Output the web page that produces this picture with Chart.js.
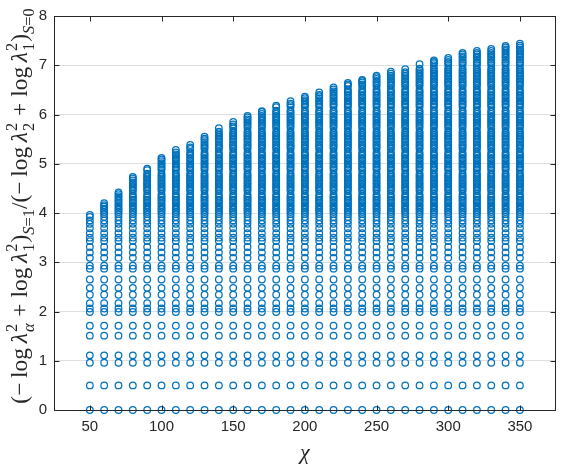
<!DOCTYPE html>
<html>
<head>
<meta charset="utf-8">
<script src="https://cdn.jsdelivr.net/npm/chart.js@4.4.1/dist/chart.umd.min.js"></script>
<style>
  html, body { margin: 0; padding: 0; background: #fff; }
  canvas { display: block; }
</style>
</head>
<body>
<canvas id="myChart" width="561" height="466"></canvas>
<script>
// bond dimensions (one column of points each)
const chi = [50, 60, 70, 80, 90, 100, 110, 120, 130, 140, 150, 160, 170, 180, 190, 200,
             210, 220, 230, 240, 250, 260, 270, 280, 290, 300, 310, 320, 330, 340, 350];

// highest ratio reached in each column
const tops = [3.96, 4.2, 4.42, 4.73, 4.9, 5.12, 5.28, 5.38, 5.55, 5.72, 5.85, 5.97, 6.07, 6.18, 6.27, 6.36,
              6.45, 6.55, 6.64, 6.7, 6.79, 6.87, 6.92, 7.02, 7.1, 7.15, 7.25, 7.29, 7.33, 7.39, 7.44];

// low lying ratios, seen in every column
const lowLevels = [0, 0.5, 0.96, 1.11, 1.51, 1.71, 1.99, 2.06, 2.17, 2.34, 2.48, 2.65, 2.87, 2.93,
                   3.09, 3.2, 3.31, 3.43, 3.5, 3.59, 3.69, 3.78, 3.85, 3.92, 3.98];

// the dense upper band
const highLevels = [4.02, 4.06, 4.09, 4.13, 4.16, 4.2, 4.24, 4.27, 4.31, 4.34, 4.38, 4.45, 4.48, 4.52,
                    4.55, 4.59, 4.62, 4.66, 4.7, 4.73, 4.77, 4.8, 4.87, 4.91, 4.94, 4.98, 5.01, 5.05,
                    5.09, 5.12, 5.16, 5.19, 5.23, 5.3, 5.33, 5.37, 5.4, 5.44, 5.48, 5.51, 5.55, 5.58,
                    5.62, 5.65, 5.72, 5.76, 5.8, 5.83, 5.87, 5.9, 5.94, 5.97, 6.01, 6.05, 6.08, 6.15,
                    6.19, 6.22, 6.26, 6.29, 6.33, 6.37, 6.4, 6.44, 6.47, 6.51, 6.58, 6.61, 6.65, 6.68,
                    6.72, 6.76, 6.79, 6.83, 6.86, 6.9, 6.93, 7.0, 7.04, 7.07, 7.11, 7.15, 7.18, 7.22,
                    7.25, 7.29, 7.32, 7.36, 7.4];

const xTicks = [50, 100, 150, 200, 250, 300, 350];
const yTicks = [0, 1, 2, 3, 4, 5, 6, 7, 8];

const axisColor = '#262626';
const blue = '#0072BD';

const levels = lowLevels.concat(highLevels);
const points = [];
for (let i = 0; i < chi.length; i++) {
    levels.forEach(v => {
        if (v < tops[i] - 0.02) points.push({x: chi[i], y: v});
    });
    points.push({x: chi[i], y: tops[i]});
}

// y label pieces: [text, italic, position]
const yLabel = [
    ['(\u2212\u2009log\u2009', false, 'b'], ['\u03bb', true, 'b'], ['2|\u03b1', true, 'ss'],
    [' + log\u2009', false, 'b'], ['\u03bb', true, 'b'], ['2|1', false, 'ss'],
    [')', false, 'b'], ['S', true, 'sub'], ['=1', false, 'sub'],
    ['/(\u2212\u2009log\u2009', false, 'b'], ['\u03bb', true, 'b'], ['2|2', false, 'ss'],
    [' + log\u2009', false, 'b'], ['\u03bb', true, 'b'], ['2|1', false, 'ss'],
    [')', false, 'b'], ['S', true, 'sub'], ['=0', false, 'sub']
];

function font(size, italic) {
    return (italic ? 'italic ' : '') + size + 'px "Liberation Serif"';
}

function mathRun(ctx, parts, size, draw) {
    let x = 0;
    const s = size * 0.7;
    parts.forEach(p => {
        const [t, it, pos] = p;
        if (pos === 'b') {
            ctx.font = font(size, it);
            if (draw) ctx.fillText(t, x, 0);
            x += ctx.measureText(t).width;
        } else if (pos === 'sub') {
            ctx.font = font(s, it);
            if (draw) ctx.fillText(t, x, size * 0.3);
            x += ctx.measureText(t).width;
        } else {
            const [sup, sub] = t.split('|');
            ctx.font = font(s, false);
            const w1 = ctx.measureText(sup).width;
            if (draw) ctx.fillText(sup, x + 1, -size * 0.42);
            ctx.font = font(s, it);
            const w2 = ctx.measureText(sub).width;
            if (draw) ctx.fillText(sub, x + 1, size * 0.28);
            x += Math.max(w1, w2) + 2;
        }
    });
    return x;
}

const frame = {
    id: 'frame',
    afterDraw(chart) {
        const ctx = chart.ctx;
        const a = chart.chartArea;
        const xs = chart.scales.x, ys = chart.scales.y;
        const L = Math.round(a.left) + 0.5, R = Math.round(a.right) - 0.5;
        const T = Math.round(a.top) + 0.5, B = Math.round(a.bottom) + 0.5;
        ctx.save();
        ctx.strokeStyle = axisColor;
        ctx.lineWidth = 1;
        ctx.strokeRect(L, T, R - L, B - T);
        ctx.beginPath();
        xTicks.forEach(v => {
            const p = Math.round(xs.getPixelForValue(v)) + 0.5;
            ctx.moveTo(p, B); ctx.lineTo(p, B - 5);
            ctx.moveTo(p, T); ctx.lineTo(p, T + 5);
        });
        yTicks.forEach(v => {
            const p = Math.round(ys.getPixelForValue(v)) + 0.5;
            ctx.moveTo(L, p); ctx.lineTo(L + 5, p);
            ctx.moveTo(R, p); ctx.lineTo(R - 5, p);
        });
        ctx.stroke();

        // x label
        ctx.fillStyle = axisColor;
        ctx.textAlign = 'center';
        ctx.textBaseline = 'middle';
        ctx.font = font(22, true);
        ctx.fillText('\u03c7', (a.left + a.right) / 2, 453);

        // y label, rotated
        ctx.textAlign = 'left';
        ctx.textBaseline = 'alphabetic';
        let size = 18;
        const w0 = mathRun(ctx, yLabel, size, false);
        size = size * 398 / w0;
        const w = mathRun(ctx, yLabel, size, false);
        ctx.translate(27, 206);
        ctx.rotate(-Math.PI / 2);
        ctx.translate(-w / 2, 0);
        mathRun(ctx, yLabel, size, true);
        ctx.restore();
    }
};

const ctx = document.getElementById('myChart');
new Chart(ctx, {
    type: 'scatter',
    data: {
        datasets: [{
            data: points,
            pointStyle: 'circle',
            pointRadius: 3.3,
            pointBorderWidth: 1.25,
            pointBorderColor: blue,
            pointBackgroundColor: 'rgba(0,0,0,0)',
            clip: false
        }]
    },
    options: {
        responsive: false,
        animation: false,
        devicePixelRatio: 1,
        events: [],
        layout: { padding: { top: 12, right: 1, left: 0, bottom: 0 } },
        plugins: { legend: { display: false }, tooltip: { enabled: false } },
        scales: {
            x: {
                type: 'linear',
                min: 25,
                max: 375,
                afterBuildTicks: s => { s.ticks = xTicks.map(v => ({value: v})); },
                afterFit: s => { s.height = 56; },
                grid: { display: false, drawTicks: false },
                border: { display: false },
                ticks: { padding: 8, maxRotation: 0, color: axisColor,
                         font: { family: 'Liberation Sans', size: 15 } }
            },
            y: {
                type: 'linear',
                min: 0,
                max: 8,
                afterBuildTicks: s => { s.ticks = yTicks.map(v => ({value: v})); },
                afterFit: s => { s.width = 54; },
                grid: { color: 'rgba(38,38,38,0.15)', drawTicks: false },
                border: { display: false },
                ticks: { padding: 7, color: axisColor,
                         font: { family: 'Liberation Sans', size: 15 } }
            }
        }
    },
    plugins: [frame]
});
</script>
</body>
</html>
